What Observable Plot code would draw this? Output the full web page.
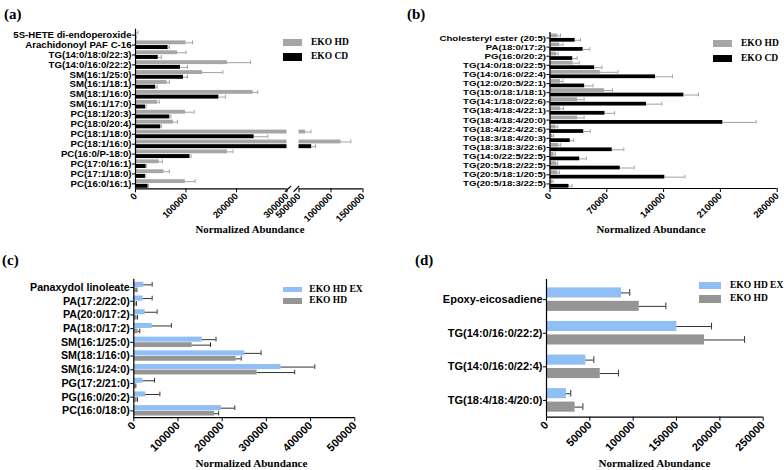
<!DOCTYPE html>
<html><head><meta charset="utf-8">
<script src="https://cdn.jsdelivr.net/npm/d3@7"></script>
<script src="https://cdn.jsdelivr.net/npm/@observablehq/plot@0.6"></script>
<style>
body{margin:0;background:#fff;}
#root{position:relative;width:784px;height:470px;overflow:hidden;background:#fff;}
.t{position:absolute;font-family:"Liberation Serif","Times New Roman",serif;font-weight:bold;white-space:nowrap;color:#000;}
.sw{position:absolute;}
</style></head><body><div id="root"></div>
<script>
// ---------- Panel (a) ----------
const aCats = ["5S-HETE di-endoperoxide","Arachidonoyl PAF C-16","TG(14:0/18:0/22:3)","TG(14:0/16:0/22:2)","SM(16:1/25:0)","SM(16:1/18:1)","SM(18:1/16:0)","SM(16:1/17:0)","PC(18:1/20:3)","PC(18:0/20:4)","PC(18:1/18:0)","PC(18:1/16:0)","PC(16:0/P-18:0)","PC(17:0/16:1)","PC(17:1/18:0)","PC(16:0/16:1)"];
const aHD    = [2000,100000,83500,182000,133000,62500,233000,44000,99000,75000,605000,1156000,182000,47000,56500,98700];
const aHDErr = [3000,13000,16500,46000,40000,4500,9000,3000,17000,8000,82000,154000,11000,6000,10500,19300];
const aCD    = [1000,64500,45000,89000,95000,40000,165000,20000,68000,50000,235000,698000,108000,21000,19700,25000];
const aCDErr = [500,2500,6000,14000,8000,3000,13000,1000,2000,1000,27000,62000,2000,1000,800,1000];
const aTicks = [0,100000,200000,300000,500000,1000000,1500000];
const aBreak = [300000,500000];
const aMax = 1500000;

// ---------- Panel (b) ----------
const bCats = ["Cholesteryl ester (20:5)","PA(18:0/17:2)","PG(16:0/20:2)","TG(14:0/18:0/22:5)","TG(14:0/16:0/22:4)","TG(12:0/20:5/22:1)","TG(15:0/18:1/18:1)","TG(14:1/18:0/22:6)","TG(18:4/18:4/22:1)","TG(18:4/18:4/20:0)","TG(18:4/22:4/22:6)","TG(18:3/18:4/20:3)","TG(18:3/18:3/22:6)","TG(14:0/22:5/22:5)","TG(20:5/18:2/22:5)","TG(20:5/18:1/20:5)","TG(20:5/18:3/22:5)"];
const bHD    = [9600,12000,8000,28500,62000,12900,67300,34000,13000,34000,7600,3500,10800,5100,8000,9600,3000];
const bHDErr = [3300,4000,2000,7500,21800,3000,9700,8000,3600,8000,2000,1000,2500,1500,1500,2000,700];
const bCD    = [31000,40800,28000,55000,130000,42700,165000,119000,67800,213000,41600,25000,76700,36600,86600,141500,23500];
const bCDErr = [6500,8200,5400,9000,21000,10300,18000,19000,11800,41000,8100,4200,14300,8200,17200,24900,3700];
const bTicks = [0,70000,140000,210000,280000];

// ---------- Panel (c) ----------
const cCats = ["Panaxydol linoleate","PA(17:2/22:0)","PA(20:0/17:2)","PA(18:0/17:2)","SM(16:1/25:0)","SM(18:1/16:0)","SM(16:1/24:0)","PG(17:2/21:0)","PG(16:0/20:2)","PC(16:0/18:0)"];
const cEX    = [22600,21000,25600,41500,154600,251000,333000,20400,27000,198000];
const cEXErr = [18900,20500,27200,43500,31400,37000,76500,26400,32000,30500];
const cHD    = [6000,5000,7500,10000,132000,231500,279000,3800,7500,183000];
const cHDErr = [1000,1000,1000,3500,41500,11500,85000,800,1000,9000];
const cTicks = [0,100000,200000,300000,400000,500000];

// ---------- Panel (d) ----------
const dCats = ["Epoxy-eicosadiene","TG(14:0/16:0/22:2)","TG(14:0/16:0/22:4)","TG(18:4/18:4/20:0)"];
const dEX    = [86500,150400,45400,23000];
const dEXErr = [9500,40000,9200,5000];
const dHD    = [107000,182300,62000,33000];
const dHDErr = [30700,46200,21000,9000];
const dTicks = [0,50000,100000,150000,200000,250000];

const GRAY_A = "#a6a6a6", BLACK = "#000000", BLUE = "#90bff5", GRAY_C = "#959595";
const root = document.getElementById("root");

function makePanel(o) {
  const n = o.cats.length, idx = d3.range(n);
  const marks = [];
  for (const s of o.series) {
    marks.push(Plot.rect(idx, {x1: 0, x2: i => s.values[i], y1: i => i + s.o1, y2: i => i + s.o2, fill: s.color}));
  }
  for (const s of o.series) {
    const mid = (s.o1 + s.o2) / 2;
    marks.push(Plot.ruleY(idx, {y: i => i + mid, x1: i => s.values[i], x2: i => s.values[i] + s.errs[i], stroke: o.errColor, strokeWidth: o.errWidth}));
    marks.push(Plot.ruleX(idx, {x: i => s.values[i] + s.errs[i], y1: i => i + mid - o.cap, y2: i => i + mid + o.cap, stroke: o.errColor, strokeWidth: o.errWidth}));
  }
  if (o.breakAt) {
    const [lo, hi] = o.breakAt;
    marks.push(Plot.rect([0], {x1: lo, x2: hi, y1: -0.6, y2: n - 0.5, fill: "white"}));
    marks.push(Plot.ruleY([{a: 0, b: lo}, {a: hi, b: o.xmax}], {y: n - 0.5, x1: "a", x2: "b", stroke: "black", strokeWidth: 1.2}));
    const g = hi - lo;
    marks.push(Plot.link([{a: lo - 0.02 * g, b: lo + 0.35 * g}, {a: lo + 0.55 * g, b: hi + 0.012 * (o.xmax - hi) / 4}], {x1: "a", x2: "b", y1: n - 0.5 + 0.3, y2: n - 0.5 - 0.3, stroke: "black", strokeWidth: 1.2}));
  } else {
    marks.push(Plot.ruleY([n - 0.5], {x1: 0, x2: o.xmax, stroke: "black", strokeWidth: 1.2}));
  }
  marks.push(Plot.ruleX([0], {y1: -0.6, y2: n - 0.5, stroke: "black", strokeWidth: 1.2}));

  const xs = {type: "linear", domain: o.xdomain, ticks: o.ticks, tickFormat: d => String(d), tickRotate: -45, tickSize: 4, tickPadding: 2, label: null};
  if (o.xrange) xs.range = o.xrange;
  const svg = Plot.plot({
    width: o.width, height: o.height,
    marginLeft: o.ml, marginRight: o.mr, marginTop: o.mt, marginBottom: o.mb,
    style: {fontFamily: "'Liberation Sans', Arial, sans-serif", fontWeight: "bold", fontSize: o.yFont + "px", overflow: "visible", background: "transparent", color: "black"},
    x: xs,
    y: {type: "linear", domain: [-0.6, n - 0.5], reverse: true, ticks: idx, tickFormat: i => o.cats[i], tickSize: 3, tickPadding: 1, label: null},
    marks
  });
  svg.style.position = "absolute";
  svg.style.left = o.left + "px";
  svg.style.top = o.top + "px";
  root.appendChild(svg);
  d3.select(svg).selectAll('g[aria-label^="x-axis"] text').style("font-size", o.xFont + "px");
  const yt = d3.select(svg).selectAll('g[aria-label^="y-axis"] text').style("font-size", o.yFont + "px");
  if (o.yStretch && o.yStretch !== 1) {
    yt.each(function () {
      const len = this.getComputedTextLength();
      if (len > 0) {
        this.setAttribute("textLength", (len * o.yStretch).toFixed(2));
        this.setAttribute("lengthAdjust", "spacingAndGlyphs");
      }
    });
  }
}

function text(str, left, cy, size, anchor) {
  const d = document.createElement("div");
  d.className = "t";
  d.textContent = str;
  d.style.fontSize = size + "px";
  d.style.lineHeight = size + "px";
  d.style.top = (cy - size / 2) + "px";
  if (anchor === "middle") { d.style.left = left + "px"; d.style.transform = "translateX(-50%)"; }
  else d.style.left = left + "px";
  root.appendChild(d);
}
function swatch(x1, y1, x2, y2, color) {
  const d = document.createElement("div");
  d.className = "sw";
  Object.assign(d.style, {left: x1 + "px", top: y1 + "px", width: (x2 - x1) + "px", height: (y2 - y1) + "px", background: color});
  root.appendChild(d);
}

// (a)
makePanel({left: 0, top: 0, width: 392, height: 235, ml: 135, mr: 20, mt: 28.7, mb: 46.7,
  cats: aCats, xdomain: [0, aBreak[0], aBreak[1], aMax], xrange: [135, 286.5, 298.5, 362.5], ticks: aTicks, xmax: aMax, breakAt: aBreak,
  series: [{values: aHD, errs: aHDErr, color: GRAY_A, o1: -0.42, o2: -0.03}, {values: aCD, errs: aCDErr, color: BLACK, o1: 0.05, o2: 0.45}],
  errColor: "#8a8a8a", errWidth: 0.8, cap: 0.2, yFont: 8.6, yStretch: 1.12, xFont: 9.3});
// (b)
makePanel({left: 392, top: 0, width: 392, height: 235, ml: 157.5, mr: 7.3, mt: 32, mb: 47,
  cats: bCats, xdomain: [0, 280000], ticks: bTicks, xmax: 280000,
  series: [{values: bHD, errs: bHDErr, color: GRAY_A, o1: -0.44, o2: -0.03}, {values: bCD, errs: bCDErr, color: BLACK, o1: 0.05, o2: 0.46}],
  errColor: "#8a8a8a", errWidth: 0.8, cap: 0.2, yFont: 7.9, yStretch: 1.22, xFont: 9.3});
// (c)
makePanel({left: 0, top: 235, width: 392, height: 235, ml: 133.3, mr: 37.7, mt: 43.8, mb: 52.8,
  cats: cCats, xdomain: [0, 500000], ticks: cTicks, xmax: 500000,
  series: [{values: cEX, errs: cEXErr, color: BLUE, o1: -0.38, o2: -0.01}, {values: cHD, errs: cHDErr, color: GRAY_C, o1: 0.03, o2: 0.38}],
  errColor: "#333", errWidth: 1, cap: 0.17, yFont: 10.7, xFont: 11});
// (d)
makePanel({left: 392, top: 235, width: 392, height: 235, ml: 154, mr: 21.3, mt: 44, mb: 53.3,
  cats: dCats, xdomain: [0, 250000], ticks: dTicks, xmax: 250000,
  series: [{values: dEX, errs: dEXErr, color: BLUE, o1: -0.35, o2: -0.05}, {values: dHD, errs: dHDErr, color: GRAY_C, o1: 0.05, o2: 0.35}],
  errColor: "#333", errWidth: 1, cap: 0.1, yFont: 11, xFont: 11});

// panel letters
text("(a)", 4, 14, 15);
text("(b)", 407, 14, 15);
text("(c)", 2, 260, 15);
text("(d)", 415, 260, 15);
// axis titles
text("Normalized Abundance", 250, 229, 10.8, "middle");
text("Normalized Abundance", 651, 229, 10.8, "middle");
text("Normalized Abundance", 251.5, 464, 11.1, "middle");
text("Normalized Abundance", 654.5, 464, 11.1, "middle");
// legends
swatch(283, 38.7, 302, 46, GRAY_A); text("EKO HD", 311, 42.3, 9.5);
swatch(283, 53, 302, 60.7, BLACK); text("EKO CD", 311, 57, 9.5);
swatch(713.3, 40, 732, 47.3, GRAY_A); text("EKO HD", 741, 43.7, 9.5);
swatch(713.3, 55, 732, 62.3, BLACK); text("EKO CD", 741, 58.7, 9.5);
swatch(283.3, 286.7, 301.7, 292.3, BLUE); text("EKO HD EX", 309.3, 289.5, 9.5);
swatch(283.3, 298.3, 301.7, 304, GRAY_C); text("EKO HD", 309.3, 301.2, 9.5);
swatch(699.3, 281.7, 721, 289.3, BLUE); text("EKO HD EX", 730, 285.5, 9.5);
swatch(699.3, 295.3, 721, 302.7, GRAY_C); text("EKO HD", 730, 299, 9.5);
</script></body></html>
